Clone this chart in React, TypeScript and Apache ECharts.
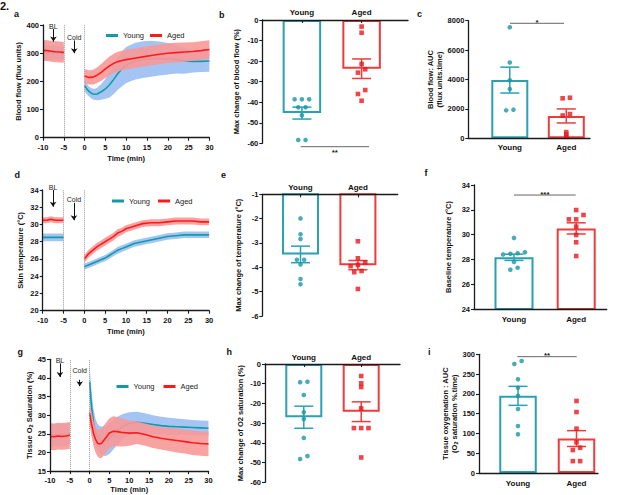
import React, { useEffect, useRef } from "react";
import * as echarts from "echarts";

// ---------------- data ----------------
const CATS = ["Young", "Aged"];

const T_BASE = [-10, -9, -8, -7, -6, -5];
const T_POST = [0, 0.5, 1, 1.5, 2, 2.5, 3, 4, 5, 6, 7, 8, 9, 10, 12, 14, 16, 18, 20, 22, 24, 26, 28, 30];

// a: blood flow
const A_YOUNG_B = [302, 301, 302, 301, 300, 300];
const A_YOUNG_B_SEM = [25, 25, 25, 25, 25, 25];
const A_AGED_B = [310, 309, 307, 305, 304, 303];
const A_AGED_B_SEM = [37, 37, 37, 37, 37, 37];
const A_YOUNG = [185, 174, 165, 159, 155, 154, 155, 163, 173, 188, 207, 228, 245, 258, 271, 277, 280, 281, 280, 278, 272, 271, 271, 272];
const A_YOUNG_SEM = [20, 19, 18, 18, 19, 20, 22, 28, 35, 45, 52, 58, 62, 64, 65, 65, 64, 60, 56, 50, 45, 40, 38, 38];
const A_AGED = [219, 216, 214, 214, 215, 218, 222, 232, 244, 255, 264, 270, 274, 277, 282, 287, 292, 296, 300, 302, 304, 306, 309, 313];
const A_AGED_SEM = [25, 25, 25, 25, 26, 27, 28, 30, 32, 33, 34, 35, 35, 35, 35, 35, 35, 35, 35, 35, 34, 33, 33, 33];

// d: skin temperature
const D_YOUNG_B = [28.5, 28.5, 28.5, 28.5, 28.5, 28.5];
const D_YOUNG_B_SEM = [0.45, 0.45, 0.45, 0.45, 0.45, 0.45];
const D_AGED_B = [30.5, 30.5, 30.6, 30.5, 30.5, 30.5];
const D_AGED_B_SEM = [0.35, 0.35, 0.35, 0.35, 0.35, 0.35];
const D_YOUNG = [25.1, 25.2, 25.3, 25.4, 25.5, 25.6, 25.7, 25.9, 26.1, 26.4, 26.7, 27.0, 27.2, 27.4, 27.8, 28.0, 28.2, 28.4, 28.6, 28.7, 28.8, 28.8, 28.8, 28.8];
const D_YOUNG_SEM = [0.35, 0.35, 0.35, 0.35, 0.35, 0.35, 0.35, 0.35, 0.35, 0.36, 0.37, 0.38, 0.38, 0.38, 0.38, 0.38, 0.38, 0.38, 0.38, 0.38, 0.38, 0.38, 0.38, 0.38];
const D_AGED = [26.0, 26.3, 26.6, 26.8, 27.0, 27.2, 27.4, 27.7, 28.0, 28.3, 28.6, 29.0, 29.2, 29.5, 29.8, 30.1, 30.2, 30.2, 30.3, 30.4, 30.4, 30.4, 30.3, 30.3];
const D_AGED_SEM = [0.45, 0.45, 0.45, 0.45, 0.45, 0.45, 0.45, 0.45, 0.45, 0.45, 0.45, 0.45, 0.42, 0.4, 0.4, 0.4, 0.4, 0.4, 0.4, 0.4, 0.4, 0.4, 0.4, 0.4];

// g: tissue O2 saturation
const G_YOUNG_B = [24.6, 24.6, 24.7, 24.8, 24.8, 25.0];
const G_YOUNG_B_SEM = [3.0, 3.0, 3.0, 3.0, 3.0, 3.0];
const G_AGED_B = [24.3, 24.2, 24.4, 24.3, 24.4, 24.6];
const G_AGED_B_SEM = [3.6, 3.6, 3.6, 3.6, 3.6, 3.6];
const G_YOUNG = [39, 32, 28, 25.5, 24.2, 23.5, 23.2, 23, 23.8, 24.8, 25.8, 26.6, 27.3, 27.8, 28.1, 27.8, 27.5, 27.2, 27.0, 26.9, 26.8, 26.7, 26.6, 26.5];
const G_YOUNG_SEM = [4.5, 4, 3.6, 3.5, 3.5, 3.6, 3.8, 4, 4.2, 4, 3.8, 3.5, 3.2, 3, 2.8, 2.7, 2.5, 2.4, 2.3, 2.2, 2.1, 2, 2, 2];
const G_AGED = [30.5, 27.5, 25, 23.5, 22.5, 22.3, 22.5, 23.8, 25.2, 25.7, 25.6, 25.4, 25.3, 25.2, 25.3, 24.8, 24.2, 23.8, 23.5, 23.2, 22.9, 22.6, 22.4, 22.3];
const G_AGED_SEM = [3, 3.2, 3.4, 3.5, 3.6, 3.8, 4, 4, 4, 4, 3.9, 3.8, 3.6, 3.4, 3.0, 3.0, 3.0, 3.0, 3.1, 3.2, 3.2, 3.3, 3.3, 3.3];

// bar panels: individual values, mean, SEM
const B_YOUNG = [-38.6, -38.6, -38.6, -42.5, -42.5, -46.3, -58.4, -58.4];
const B_AGED = [-3.2, -6.2, -21.4, -24.0, -25.6, -34.1, -36.0, -39.3];
const B_MEAN = [-45.3, -23.7];
const B_SEM = [2.9, 4.75];

const C_YOUNG = [7550, 5150, 3950, 3350, 1900, 1950];
const C_AGED = [2720, 2760, 1550, 1650, 420, 250, 100];
const C_MEAN = [3960, 1520];
const C_SEM = [880, 477];

const E_YOUNG = [-1.99, -2.64, -2.84, -3.69, -3.69, -3.88, -4.48, -4.7];
const E_AGED = [-2.93, -3.63, -3.8, -3.95, -3.9, -4.2, -4.15, -4.89];
const E_MEAN = [-3.47, -3.91];
const E_SEM = [0.34, 0.19];

const F_YOUNG = [29.73, 28.57, 28.5, 28.4, 28.45, 27.79, 27.17, 27.33];
const F_AGED = [31.98, 31.58, 31.23, 31.23, 30.64, 29.97, 29.38, 28.27];
const F_MEAN = [28.17, 30.5];
const F_SEM = [0.25, 0.45];

const H_YOUNG = [-9.2, -9.0, -15.7, -24.5, -27.9, -37.5, -48.2, -46.7];
const H_AGED = [-6.1, -9.8, -11.7, -22.5, -32.5, -32.5, -32.5, -47.4];
const H_MEAN = [-27.0, -24.2];
const H_SEM = [5.6, 5.0];

const I_YOUNG = [283, 275.5, 236.8, 215.6, 195, 161.8, 118.8, 97.8];
const I_AGED = [182, 154, 112, 77.6, 64, 58, 30, 30];
const I_MEAN = [195, 87];
const I_SEM = [24, 20];

// ---------------- styles ----------------
const FONT = "'Liberation Sans', Arial, Helvetica, sans-serif";
const AX = "#1a1a1a";
const TXT = "#111";
const TEAL = "#139aa8";
const TEAL_BAND = "#a4c5f4";
const RED = "#ff1a1a";
const PINK_BAND = "rgba(248,152,152,0.9)";
const TEAL_BAR = "#2aa0b3";
const RED_BAR = "#ec3c3c";
const TEAL_PT = "#1996a8";
const RED_PT = "#e8161b";

const RICH = {
  s: { fontSize: 5.5, fontWeight: "bold", verticalAlign: "bottom", lineHeight: 7, fontFamily: FONT, color: TXT },
};

const TS_PANELS = [
  {
    gi: 0, grid: { left: 43, top: 25, width: 166.4, height: 112.7 }, y: [0, 400, 100],
    yName: "Blood flow (flux units)", yNameGap: 20, xNameGap: 16, xLabelMargin: 6,
    yb: A_YOUNG_B, ybs: A_YOUNG_B_SEM, ab: A_AGED_B, abs: A_AGED_B_SEM,
    yp: A_YOUNG, yps: A_YOUNG_SEM, ap: A_AGED, aps: A_AGED_SEM,
    bl: [386, 341], cold: [345, 300], coldDist: -1, legend: { left: 106, top: 31.5, gap: 6 },
  },
  {
    gi: 3, grid: { left: 42.7, top: 190, width: 166.4, height: 120.7 }, y: [20, 34, 2],
    yName: "Skin temperature (°C)", yNameGap: 18, xNameGap: 16, xLabelMargin: 6,
    yb: D_YOUNG_B, ybs: D_YOUNG_B_SEM, ab: D_AGED_B, abs: D_AGED_B_SEM,
    yp: D_YOUNG, yps: D_YOUNG_SEM, ap: D_AGED, aps: D_AGED_SEM,
    bl: [34.0, 32.06], cold: [32.5, 30.5], coldDist: 0, legend: { left: 112, top: 197, gap: 8 },
  },
  {
    gi: 6, grid: { left: 50, top: 359.3, width: 158.5, height: 113.7 }, y: [15, 45, 5],
    yName: "Tissue O{s|2} Saturation (%)", yNameGap: 13.5, xNameGap: 13, xLabelMargin: 5,
    yb: G_YOUNG_B, ybs: G_YOUNG_B_SEM, ab: G_AGED_B, abs: G_AGED_B_SEM,
    yp: G_YOUNG, yps: G_YOUNG_SEM, ap: G_AGED, aps: G_AGED_SEM,
    bl: [43.9, 40.25], cold: [39.5, 37.8], coldDist: 5.5, legend: { left: 116.5, top: 382.5, gap: 9 },
  },
];

const BAR_PANELS = [
  { gi: 1, grid: { left: 262.3, top: 20, width: 145.7, height: 123.3 }, y: [-60, 0, 10], top: true,
    centers: [39.6, 99.3], barW: 38.5, young: B_YOUNG, aged: B_AGED, mean: B_MEAN, sem: B_SEM,
    yName: "Max change of blood flow (%)", yNameGap: 21, thr: 4.5, labelMargin: 3.5 },
  { gi: 2, grid: { left: 468.3, top: 20.7, width: 121.7, height: 117.6 }, y: [0, 8000, 2000], top: false,
    centers: [41.5, 98], barW: 37, young: C_YOUNG, aged: C_AGED, mean: C_MEAN, sem: C_SEM,
    yName: "Blood flow: AUC\n(flux units.time)", yNameGap: 21.5, thr: 2, labelMargin: 5.5 },
  { gi: 4, grid: { left: 262.3, top: 194.3, width: 135.4, height: 121.7 }, y: [-6, -1, 1], top: true,
    centers: [38.2, 95.6], barW: 37, young: E_YOUNG, aged: E_AGED, mean: E_MEAN, sem: E_SEM,
    yName: "Max change of temperature (°C)", yNameGap: 19, thr: 4.5, labelMargin: 3 },
  { gi: 5, grid: { left: 474, top: 185, width: 132.7, height: 124 }, y: [24, 34, 2], top: false,
    centers: [40, 102.2], barW: 39, young: F_YOUNG, aged: F_AGED, mean: F_MEAN, sem: F_SEM,
    yName: "Baseline temperature (°C)", yNameGap: 20.7, thr: 4.5, labelMargin: 6 },
  { gi: 7, grid: { left: 265, top: 364, width: 135, height: 118.3 }, y: [-60, 0, 10], top: true,
    centers: [38.8, 96.2], barW: 37, young: H_YOUNG, aged: H_AGED, mean: H_MEAN, sem: H_SEM,
    yName: "Max change of O2 saturation (%)", yNameGap: 20, thr: 3.5, labelMargin: 3 },
  { gi: 8, grid: { left: 479, top: 354.3, width: 119, height: 118.7 }, y: [0, 300, 50], top: false,
    centers: [39, 97.5], barW: 37.5, young: I_YOUNG, aged: I_AGED, mean: I_MEAN, sem: I_SEM,
    yName: "Tissue oxygenation : AUC\n(O{s|2} saturation %.time)", yNameGap: 17.8, thr: 4.5, labelMargin: 6 },
];

const SIGS = [
  { gi: 1, y: -61.65, x1: 38.4, x2: 106.7, text: "**", below: true },
  { gi: 2, y: 7823, x1: 41.7, x2: 95.7, text: "*", below: false },
  { gi: 5, y: 33.19, x1: 40, x2: 101.7, text: "***", below: false },
  { gi: 8, y: 294, x1: 38.3, x2: 97.7, text: "**", below: false },
];

const LETTERS: [string, number, number, number][] = [
  ["2.", 0, 6, 11], ["a", 14, 14, 9], ["b", 219, 15, 9], ["c", 417, 14, 9],
  ["d", 14.5, 175, 9], ["e", 221, 175, 9], ["f", 424.5, 173.3, 9],
  ["g", 17.5, 352, 9], ["h", 226.5, 351.7, 9], ["i", 428, 351.7, 9],
];

// deterministic beeswarm: rows of points closer than thr px are spread sideways
function swarm(vals: number[], pxPerUnit: number, thr: number, step = 7.3): number[] {
  const idx = vals.map((_, i) => i).sort((a, b) => vals[a] - vals[b]);
  const out = new Array(vals.length).fill(0);
  let row: number[] = [];
  const flush = () => {
    row.forEach((ii, j) => { out[ii] = (j - (row.length - 1) / 2) * step; });
    row = [];
  };
  for (const i of idx) {
    if (row.length && Math.abs(vals[i] - vals[row[0]]) * pxPerUnit > thr) flush();
    row.push(i);
  }
  flush();
  return out;
}

function band(name: string, t: number[], m: number[], s: number[], color: string, gi: number, z: number) {
  const pts = t.map((x, i) => [x, m[i] - s[i], m[i] + s[i]]);
  return {
    type: "custom", name, xAxisIndex: gi, yAxisIndex: gi, silent: true, clip: true, z,
    data: pts, encode: { x: 0, y: [1, 2] },
    renderItem: (params: any, api: any) => {
      if (params.dataIndex !== 0) return null;
      const up = pts.map((p) => api.coord([p[0], p[2]]));
      const lo = pts.map((p) => api.coord([p[0], p[1]])).reverse();
      return { type: "polygon", shape: { points: up.concat(lo) }, style: { fill: color } };
    },
  };
}

function line(name: string, t: number[], m: number[], color: string, gi: number, z: number, extra: any = {}) {
  return {
    type: "line", name, xAxisIndex: gi, yAxisIndex: gi, silent: true, showSymbol: false, z,
    color, itemStyle: { color }, lineStyle: { color, width: 1.6 },
    data: t.map((x, i) => [x, m[i]]), ...extra,
  };
}

const axisLine = { show: true, onZero: false, lineStyle: { color: AX, width: 1.3 } };
const tickLbl = { fontSize: 7.5, fontWeight: "bold", color: TXT, fontFamily: FONT };
const nameStyle = { fontSize: 7.5, fontWeight: "bold", color: TXT, fontFamily: FONT, lineHeight: 9, rich: RICH };

function buildOption() {
  const grids: any[] = [];
  const xAxes: any[] = [];
  const yAxes: any[] = [];
  const series: any[] = [];
  const legends: any[] = [];

  const all: any[] = [];
  TS_PANELS.forEach((p) => (all[p.gi] = { kind: "ts", p }));
  BAR_PANELS.forEach((p) => (all[p.gi] = { kind: "bar", p }));

  all.forEach(({ kind, p }) => {
    grids.push({ ...p.grid, containLabel: false });
    yAxes.push({
      type: "value", gridIndex: p.gi, min: p.y[0], max: p.y[1], interval: p.y[2], z: 10,
      axisLine, axisTick: { show: true, length: 3, lineStyle: { color: AX, width: 1.1 } },
      axisLabel: { ...tickLbl, margin: 4, formatter: (v: number) => String(v) }, splitLine: { show: false },
      name: p.yName, nameLocation: "middle", nameGap: p.yNameGap, nameTextStyle: nameStyle,
    });
    if (kind === "ts") {
      xAxes.push({
        type: "value", gridIndex: p.gi, min: -10, max: 30, interval: 5, z: 10,
        axisLine, axisTick: { show: true, length: 3, lineStyle: { color: AX, width: 1.1 } },
        axisLabel: { ...tickLbl, margin: p.xLabelMargin }, splitLine: { show: false },
        name: "Time (min)", nameLocation: "middle", nameGap: p.xNameGap, nameTextStyle: nameStyle,
      });
      const gi = p.gi;
      series.push(band("Young band", T_BASE, p.yb, p.ybs, TEAL_BAND, gi, 1));
      series.push(band("Young band", T_POST, p.yp, p.yps, TEAL_BAND, gi, 1));
      series.push(line("Young", T_BASE, p.yb, TEAL, gi, 2));
      series.push(line("Young", T_POST, p.yp, TEAL, gi, 2));
      series.push(band("Aged band", T_BASE, p.ab, p.abs, PINK_BAND, gi, 3));
      series.push(band("Aged band", T_POST, p.ap, p.aps, PINK_BAND, gi, 3));
      series.push(line("Aged", T_BASE, p.ab, RED, gi, 4));
      series.push(line("Aged", T_POST, p.ap, RED, gi, 4, {
        clip: false,
        markLine: {
          silent: true, symbol: "none", symbolSize: 5, animation: false,
          label: { show: false },
          lineStyle: { color: "#9a9a9a", type: "dotted", width: 1 },
          data: [
            { xAxis: -5 },
            { xAxis: 0 },
            [
              { coord: [-7.5, p.bl[0]], symbol: "none",
                label: { show: true, formatter: "BL", position: "start", distance: -1, fontSize: 7, color: "#222", fontFamily: FONT },
                lineStyle: { color: "#111", type: "solid", width: 1 } },
              { coord: [-7.5, p.bl[1]], symbol: "arrow" },
            ],
            [
              { coord: [-2.5, p.cold[0]], symbol: "none",
                label: { show: true, formatter: "Cold", position: "start", distance: p.coldDist, fontSize: 7, color: "#222", fontFamily: FONT },
                lineStyle: { color: "#111", type: "solid", width: 1 } },
              { coord: [-2.5, p.cold[1]], symbol: "arrow" },
            ],
          ],
        },
      }));
      legends.push({
        left: p.legend.left, top: p.legend.top, orient: "horizontal", icon: "rect", padding: 0,
        itemWidth: 12, itemHeight: 3, itemGap: p.legend.gap, selectedMode: false,
        data: ["Young", "Aged"], textStyle: { fontSize: 7.5, color: "#222", fontFamily: FONT },
      });
    } else {
      const c = p.centers;
      const nameOf = (v: number) => CATS[Math.abs(v - c[0]) < 1 ? 0 : 1];
      xAxes.push({
        type: "value", gridIndex: p.gi, min: 0, max: p.grid.width, z: 10,
        position: p.top ? "top" : "bottom",
        axisLine,
        axisTick: { show: p.top, inside: true, length: 3, customValues: c, lineStyle: { color: AX, width: 1.1 } },
        axisLabel: { customValues: c, formatter: nameOf, fontSize: 8, fontWeight: "bold", color: TXT, fontFamily: FONT, margin: p.labelMargin },
        splitLine: { show: false },
      });
      const gi = p.gi;
      const k = p.grid.height / (p.y[1] - p.y[0]);
      series.push({
        type: "bar", name: "bars", xAxisIndex: gi, yAxisIndex: gi, silent: true, barWidth: p.barW, z: 2,
        itemStyle: { color: "rgba(255,255,255,0)", borderWidth: 2 },
        data: [
          { value: [c[0], p.mean[0]], itemStyle: { borderColor: TEAL_BAR } },
          { value: [c[1], p.mean[1]], itemStyle: { borderColor: RED_BAR } },
        ],
      });
      series.push({
        type: "custom", name: "sem", xAxisIndex: gi, yAxisIndex: gi, silent: true, z: 3,
        data: [[c[0], p.mean[0], p.sem[0], 0], [c[1], p.mean[1], p.sem[1], 1]],
        encode: { x: 0, y: 1 },
        renderItem: (params: any, api: any) => {
          const x = api.value(0), m = api.value(1), s = api.value(2), ci = api.value(3);
          const t = api.coord([x, m + s]);
          const b = api.coord([x, m - s]);
          const st = { stroke: ci ? RED_BAR : TEAL_BAR, lineWidth: 1.5 };
          const hw = 9.5;
          return {
            type: "group", children: [
              { type: "line", shape: { x1: t[0], y1: t[1], x2: b[0], y2: b[1] }, style: st },
              { type: "line", shape: { x1: t[0] - hw, y1: t[1], x2: t[0] + hw, y2: t[1] }, style: st },
              { type: "line", shape: { x1: b[0] - hw, y1: b[1], x2: b[0] + hw, y2: b[1] }, style: st },
            ],
          };
        },
      });
      const oy = swarm(p.young, k, p.thr);
      const oa = swarm(p.aged, k, p.thr);
      series.push({
        type: "scatter", name: "Young pts", xAxisIndex: gi, yAxisIndex: gi, silent: true, z: 4,
        symbol: "circle", symbolSize: 4.6, itemStyle: { color: TEAL_PT },
        data: p.young.map((v: number, i: number) => [c[0] + oy[i], v]),
      });
      series.push({
        type: "scatter", name: "Aged pts", xAxisIndex: gi, yAxisIndex: gi, silent: true, z: 4,
        symbol: "rect", symbolSize: 4.6, itemStyle: { color: RED_PT },
        data: p.aged.map((v: number, i: number) => [c[1] + oa[i], v]),
      });
    }
  });

  return {
    animation: false,
    backgroundColor: "#ffffff",
    textStyle: { fontFamily: FONT },
    grid: grids, xAxis: xAxes, yAxis: yAxes, series, legend: legends,
  };
}

export default function App() {
  const ref = useRef<HTMLDivElement>(null);
  useEffect(() => {
    if (!ref.current) return;
    const chart = echarts.init(ref.current, null, { renderer: "svg" });
    chart.setOption(buildOption() as any);
    const g: any[] = [];
    LETTERS.forEach(([t, x, y, size]) => {
      g.push({ type: "text", x, y, silent: true,
        style: { text: t, fontSize: size, fontWeight: "bold", fontFamily: FONT, fill: "#111", align: "left", verticalAlign: "middle" } });
    });
    SIGS.forEach((s) => {
      const p1 = chart.convertToPixel({ gridIndex: s.gi } as any, [s.x1, s.y]) as number[];
      const p2 = chart.convertToPixel({ gridIndex: s.gi } as any, [s.x2, s.y]) as number[];
      g.push({ type: "line", silent: true, shape: { x1: p1[0], y1: p1[1], x2: p2[0], y2: p2[1] }, style: { stroke: "#666", lineWidth: 1 } });
      g.push({ type: "text", silent: true, x: (p1[0] + p2[0]) / 2, y: s.below ? p1[1] + 2 : p1[1] + 3,
        style: { text: s.text, fontSize: 8, fontWeight: "bold", fontFamily: FONT, fill: "#222", align: "center", verticalAlign: s.below ? "top" : "bottom" } });
    });
    chart.setOption({ graphic: g } as any);
    return () => chart.dispose();
  }, []);
  return <div ref={ref} style={{ position: "absolute", left: 0, top: 0, width: 617, height: 495 }} />;
}
